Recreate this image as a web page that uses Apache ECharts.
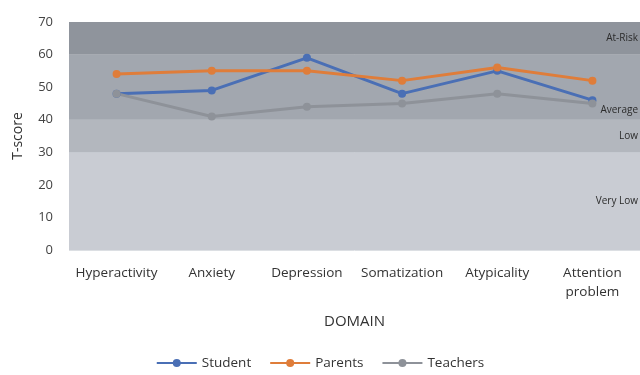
<!DOCTYPE html>
<html>
<head>
<meta charset="utf-8">
<script src="https://cdn.jsdelivr.net/npm/echarts@6/dist/echarts.min.js"></script>
<style>
  html, body { margin: 0; padding: 0; background: #ffffff; }
  #chart { width: 640px; height: 375px; }
</style>
</head>
<body>
<div id="chart"></div>
<script>
// Domains on the x axis
const domains = ['Hyperactivity', 'Anxiety', 'Depression', 'Somatization', 'Atypicality', 'Attention\nproblem'];

// T-scores per informant
const student  = [48, 49, 59, 48, 55, 46];
const parents  = [54, 55, 55, 52, 56, 52];
const teachers = [48, 41, 44, 45, 48, 45];

// Interpretation bands: [from, to, label]
const bandNames = ['Very Low', 'Low', 'Average', 'At-Risk'];
const bandFrom  = [0, 30, 40, 60];
const bandTo    = [30, 40, 60, 70];

const yTicks = [0, 10, 20, 30, 40, 50, 60, 70];

const bandColors = ['#c9ccd3', '#b3b7be', '#a2a7af', '#8f949c'];
const bandLabelPos = ['insideRight', 'insideRight', 'insideBottomRight', 'insideRight'];

const chart = echarts.init(document.getElementById('chart'));

const bandData = bandNames.map((name, i) => [
  {
    name: name,
    yAxis: bandFrom[i],
    itemStyle: { color: bandColors[i] },
    label: { position: bandLabelPos[i] }
  },
  { yAxis: bandTo[i] }
]);

const font = 'Open Sans, Liberation Sans, sans-serif';

function lineSeries(name, data, color, withBands) {
  const s = {
    name: name,
    type: 'line',
    data: data,
    symbol: 'circle',
    symbolSize: 8,
    lineStyle: { width: 3, color: color },
    itemStyle: { color: color },
    z: 3
  };
  if (withBands) {
    s.markArea = {
      silent: true,
      z: 0,
      label: {
        show: true,
        color: '#2b2b2b',
        fontSize: 10,
        fontFamily: font,
        offset: [3, 0]
      },
      data: bandData
    };
  }
  return s;
}

chart.setOption({
  animation: false,
  backgroundColor: '#ffffff',
  grid: { left: 69, top: 22, width: 575, height: 228, containLabel: false },
  xAxis: {
    type: 'category',
    data: domains,
    boundaryGap: true,
    name: 'DOMAIN',
    nameLocation: 'middle',
    nameGap: 64,
    nameTextStyle: { color: '#333', fontSize: 15, fontFamily: font },
    axisLine: { show: false },
    axisTick: { show: false },
    axisLabel: { color: '#333', fontSize: 13.5, fontFamily: font, margin: 14, lineHeight: 19, interval: 0 }
  },
  yAxis: {
    type: 'value',
    min: yTicks[0],
    max: yTicks[yTicks.length - 1],
    interval: 10,
    name: 'T-score',
    nameLocation: 'middle',
    nameGap: 44,
    nameTextStyle: { color: '#333', fontSize: 14, fontFamily: font },
    axisLine: { show: false },
    axisTick: { show: false },
    axisLabel: { color: '#444', fontSize: 13, fontFamily: font, margin: 16 },
    splitLine: { show: true, z: 1, lineStyle: { color: '#dcdfe3', width: 1 } }
  },
  legend: {
    bottom: 0,
    left: 'center',
    itemWidth: 40,
    itemHeight: 10,
    itemGap: 18,
    textStyle: { color: '#333', fontSize: 13.5, fontFamily: font },
    data: ['Student', 'Parents', 'Teachers']
  },
  series: [
    lineSeries('Student', student, '#4a6fb5', true),
    lineSeries('Parents', parents, '#df7d3a', false),
    lineSeries('Teachers', teachers, '#8e9299', false)
  ]
});
</script>
</body>
</html>
